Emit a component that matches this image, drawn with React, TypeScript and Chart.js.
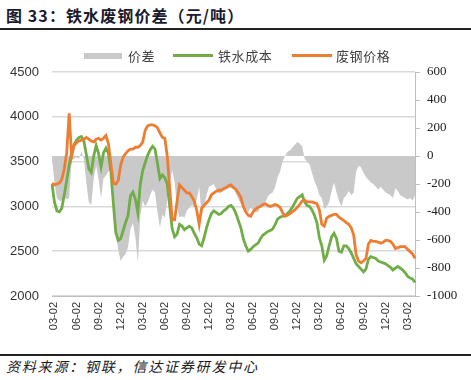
import React, { useEffect, useRef } from 'react';
import { Chart, registerables } from 'chart.js';

Chart.register(...registerables);

const tickDates = ['03-02', '06-02', '09-02', '12-02', '03-02', '06-02', '09-02', '12-02', '03-02', '06-02', '09-02', '12-02', '03-02', '06-02', '09-02', '12-02', '03-02'];

const scrapPrice = [
  3260, 3240, 3250, 3260, 3300, 3420, 3600, 4040, 3560, 3680,
  3710, 3730, 3740, 3750, 3770, 3750, 3730, 3720, 3750, 3760,
  3740, 3760, 3790, 3700, 3480, 3260, 3250, 3290, 3460, 3550,
  3590, 3620, 3640, 3640, 3660, 3660, 3680, 3720, 3850, 3900,
  3910, 3910, 3900, 3880, 3820, 3770, 3760, 3560, 3200, 2850,
  2850, 3060, 3240, 3210, 3180, 3150, 3150, 3110, 3060, 2960,
  2800, 2980, 3010, 3040, 3070, 3130, 3150, 3170, 3180, 3180,
  3200, 3210, 3230, 3240, 3210, 3190, 3150, 3100, 3000, 2940,
  2900, 2890, 2940, 2970, 2990, 3000, 3020, 3030, 3010, 3000,
  3010, 3020, 3010, 2990, 2930, 2890, 2900, 2920, 2940, 2960,
  2990, 3020, 3060, 3070, 3050, 3050, 3050, 3040, 3030, 2960,
  2800, 2780, 2870, 2890, 2900, 2910, 2910, 2880, 2860, 2840,
  2820, 2800, 2760, 2680, 2460, 2390, 2370, 2390, 2420, 2580,
  2620, 2610, 2610, 2600, 2590, 2600, 2620, 2620, 2610, 2580,
  2530, 2540, 2550, 2550, 2550, 2520, 2495, 2470, 2420,
];

const ironCost = [
  3250, 3050, 2950, 2940, 2980, 3130, 3290, 3460, 3600, 3690,
  3740, 3770, 3780, 3730, 3580, 3420, 3380, 3560, 3680, 3590,
  3440, 3600, 3650, 3590, 3390, 3040, 2710, 2620, 2640, 2730,
  2820, 2900, 3120, 3160, 3080, 2930, 3250, 3400, 3490, 3570,
  3630, 3670, 3640, 3480, 3310, 3350, 3320, 3250, 3000, 2750,
  2660, 2690, 2800, 2780, 2740, 2760, 2780, 2760, 2700, 2650,
  2580, 2560, 2650, 2760, 2850, 2920, 2950, 2930, 2910, 2920,
  2950, 2970, 3000, 3010, 2980, 2920, 2840, 2760, 2640, 2560,
  2500, 2520, 2550, 2570, 2590, 2640, 2680, 2700, 2720, 2730,
  2750, 2800, 2860, 2880, 2890, 2900, 2920, 2950, 2990, 3040,
  3090, 3110, 3130, 3050, 3010, 3000, 2960, 2900, 2820, 2650,
  2560, 2400, 2450, 2560, 2660, 2700, 2640, 2500, 2490, 2560,
  2560, 2530, 2480, 2420, 2360, 2330, 2300, 2270, 2300, 2410,
  2440, 2430, 2420, 2390, 2380, 2370, 2360, 2340, 2320, 2290,
  2310, 2330, 2310, 2290, 2260, 2220, 2200, 2190, 2150,
];

const spread = [
  -20, -190, -300, -320, -320, -290, -310, -300, -30, -20,
  -10, -20, 30, -20, -190, -330, -350, -160, -70, -170,
  -300, -160, -140, -110, -90, -220, -540, -670, -750, -720,
  -700, -650, -520, -480, -580, -760, -430, -320, -360, -330,
  -280, -240, -260, -400, -510, -420, -440, -310, -200, -100,
  -190, -370, -440, -430, -440, -390, -370, -350, -360, -310,
  -220, -420, -360, -280, -220, -210, -200, -240, -270, -260,
  -250, -240, -230, -230, -230, -270, -310, -340, -360, -380,
  -400, -370, -390, -400, -400, -360, -340, -330, -290, -270,
  -260, -220, -150, -110, -40, 0, 30, 40, 60, 80,
  100, 90, 70, -20, -40, -60, -120, -180, -220, -280,
  -300, -380, -360, -330, -250, -190, -260, -320, -360, -300,
  -280, -250, -280, -260, -110, -70, -80, -120, -150, -170,
  -190, -200, -220, -240, -220, -240, -260, -270, -280, -300,
  -230, -250, -280, -290, -300, -310, -300, -320, -280,
];

const periods = ironCost.map((_, i) => String(i));
const TICK_EVERY = 9;
const TICK_START = 1;

const GRAY = '#c9c9c9';
const GREEN = '#70ad47';
const ORANGE = '#ed7d31';

export default function App() {
  const ref = useRef<HTMLCanvasElement | null>(null);

  useEffect(() => {
    if (!ref.current) return;
    const chart = new Chart(ref.current, {
      type: 'line',
      data: {
        labels: periods,
        datasets: [
          {
            label: '价差',
            data: spread,
            yAxisID: 'y1',
            borderWidth: 0,
            borderColor: GRAY,
            backgroundColor: GRAY,
            fill: 'origin',
            pointRadius: 0,
            tension: 0,
            order: 3,
          },
          {
            label: '铁水成本',
            data: ironCost,
            yAxisID: 'y',
            borderColor: GREEN,
            backgroundColor: GREEN,
            borderWidth: 2.8,
            pointRadius: 0,
            tension: 0,
            fill: false,
            order: 2,
          },
          {
            label: '废钢价格',
            data: scrapPrice,
            yAxisID: 'y',
            borderColor: ORANGE,
            backgroundColor: ORANGE,
            borderWidth: 2.8,
            pointRadius: 0,
            tension: 0,
            fill: false,
            order: 1,
          },
        ],
      },
      options: {
        responsive: false,
        animation: false,
        devicePixelRatio: 1,
        layout: { padding: { top: 32, left: 0, right: 0, bottom: 0 } },
        plugins: { legend: { display: false }, tooltip: { enabled: false } },
        scales: {
          x: {
            type: 'category',
            offset: false,
            grid: { display: false, drawTicks: false },
            border: { display: true, color: '#bfbfbf', width: 1 },
            afterBuildTicks: (scale: any) => {
              scale.ticks = scale.ticks.filter((t: any) => (t.value - TICK_START) % TICK_EVERY === 0 && t.value >= TICK_START);
            },
            ticks: {
              autoSkip: false,
              minRotation: 90,
              maxRotation: 90,
              padding: 6,
              color: '#333333',
              font: { family: 'Liberation Sans', size: 11 },
              callback: (v: any) => tickDates[(Number(v) - TICK_START) / TICK_EVERY] ?? '',
            },
            afterFit: (scale: any) => {
              scale.height = 54;
            },
          },
          y: {
            position: 'left',
            min: 2000,
            max: 4500,
            grid: { color: '#d9d9d9', lineWidth: 1.5, drawTicks: false },
            border: { display: false },
            ticks: {
              stepSize: 500,
              padding: 13,
              color: '#333333',
              font: { family: 'Liberation Sans', size: 13 },
              callback: (v: any) => String(v),
            },
            afterFit: (scale: any) => {
              scale.width = 52;
            },
          },
          y1: {
            position: 'right',
            min: -1000,
            max: 600,
            grid: { drawOnChartArea: false, drawTicks: true, tickLength: 5, color: '#bfbfbf' },
            border: { display: true, color: '#bfbfbf', width: 1 },
            ticks: {
              stepSize: 200,
              padding: 7,
              color: '#222222',
              font: { family: 'Liberation Serif', size: 13 },
              callback: (v: any) => String(v),
            },
            afterFit: (scale: any) => {
              scale.width = 56;
            },
          },
        },
      },
    });
    return () => chart.destroy();
  }, []);

  const legendText: React.CSSProperties = {
    position: 'absolute',
    top: 47,
    fontFamily: '"Noto Sans CJK SC", sans-serif',
    fontSize: 13,
    letterSpacing: 0.6,
    color: '#404040',
    lineHeight: '17px',
    whiteSpace: 'nowrap',
  };

  return (
    <div style={{ position: 'fixed', left: 0, top: 0, width: 471, height: 380, background: '#ffffff', overflow: 'hidden' }}>
      <div
        style={{
          position: 'absolute',
          left: 6,
          top: 5,
          fontFamily: '"Noto Sans CJK SC", sans-serif',
          fontWeight: 700,
          fontSize: 16,
          lineHeight: '20px',
          color: '#1a1a2e',
          whiteSpace: 'nowrap',
          letterSpacing: 1.1,
        }}
      >
        图 33：铁水废钢价差（元/吨）
      </div>
      <div style={{ position: 'absolute', left: 0, top: 28, width: 471, height: 2, background: '#222222' }} />
      <canvas ref={ref} width={471} height={310} style={{ position: 'absolute', left: 0, top: 40, width: 471, height: 310 }} />
      <div style={{ position: 'absolute', left: 84, top: 53, width: 38, height: 6, background: GRAY }} />
      <div style={{ ...legendText, left: 128 }}>价差</div>
      <div style={{ position: 'absolute', left: 173, top: 54, width: 40, height: 3, background: GREEN }} />
      <div style={{ ...legendText, left: 218 }}>铁水成本</div>
      <div style={{ position: 'absolute', left: 292, top: 54, width: 40, height: 3, background: ORANGE }} />
      <div style={{ ...legendText, left: 336 }}>废钢价格</div>
      <div style={{ position: 'absolute', left: 0, top: 354, width: 471, height: 2, background: '#222222' }} />
      <div
        style={{
          position: 'absolute',
          left: 6,
          top: 357,
          fontFamily: '"Noto Sans CJK SC", sans-serif',
          fontStyle: 'italic',
          fontSize: 14,
          letterSpacing: 1.8,
          lineHeight: '18px',
          color: '#1a1a1a',
          whiteSpace: 'nowrap',
        }}
      >
        资料来源：钢联，信达证券研发中心
      </div>
    </div>
  );
}
